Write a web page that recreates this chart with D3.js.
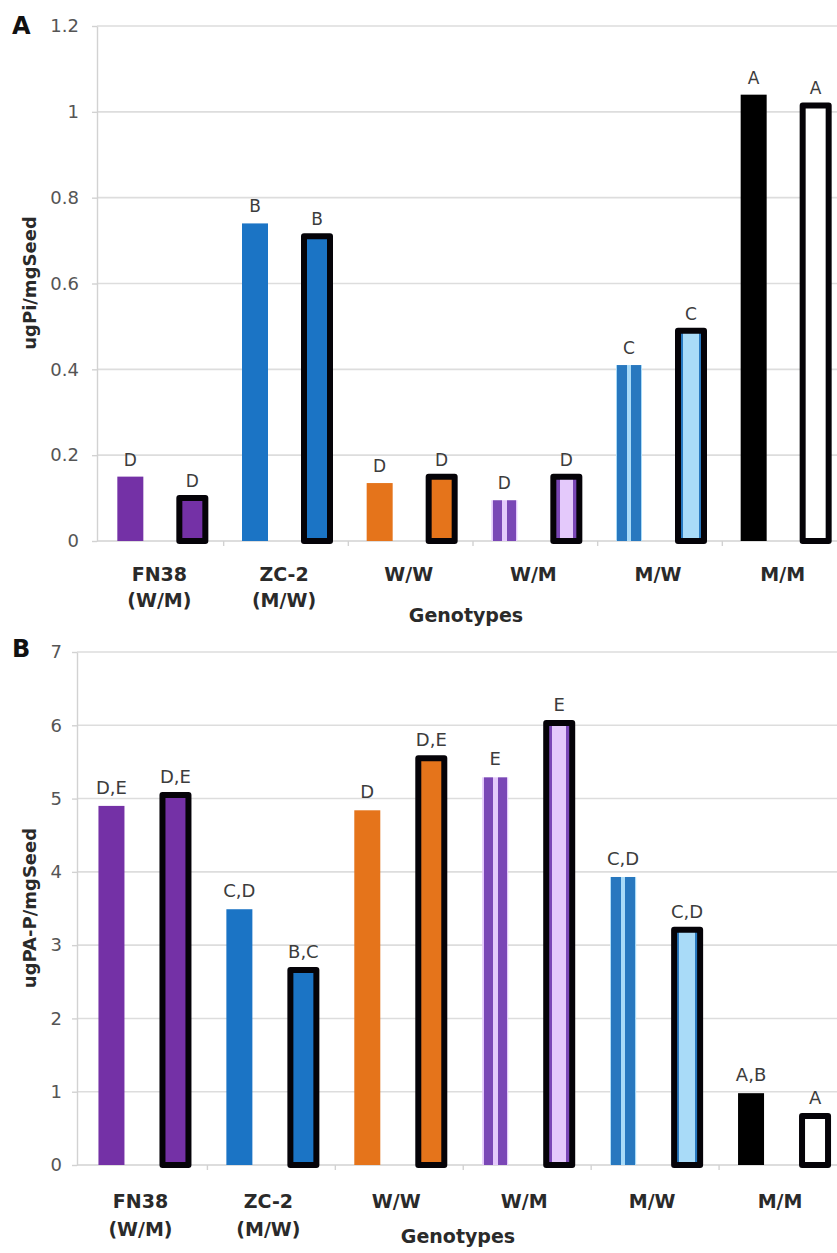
<!DOCTYPE html>
<html>
<head>
<meta charset="utf-8">
<script src="https://cdn.jsdelivr.net/npm/d3@7"></script>
<style>
  body { margin: 0; background: #fff; }
  svg { display: block; }
  text { font-family: "DejaVu Sans", "Liberation Sans", sans-serif; }
</style>
</head>
<body>
<svg id="chart" width="837" height="1253"></svg>
<script>
// Genotype categories (two-line labels)
const genotypes = ["FN38", "ZC-2", "W/W", "W/M", "M/W", "M/M"];
const genotypeSub = ["(W/M)", "(M/W)", "", "", "", ""];
const seriesKeys = ["plain", "outlined"];

// Panel A: free phosphate (ugPi/mgSeed)
const piPlain    = [0.15, 0.74, 0.135, 0.095, 0.41, 1.04];
const piOutlined = [0.10, 0.71, 0.15, 0.15, 0.49, 1.015];
const piLetterPlain    = ["D", "B", "D", "D", "C", "A"];
const piLetterOutlined = ["D", "B", "D", "D", "C", "A"];
const piTicks = [0, 0.2, 0.4, 0.6, 0.8, 1, 1.2];
const piTickLabels = ["0", "0.2", "0.4", "0.6", "0.8", "1", "1.2"];

// Panel B: phytic acid phosphorus (ugPA-P/mgSeed)
const paPlain    = [4.9, 3.49, 4.84, 5.29, 3.93, 0.98];
const paOutlined = [5.05, 2.66, 5.55, 6.03, 3.21, 0.67];
const paLetterPlain    = ["D,E", "C,D", "D", "E", "C,D", "A,B"];
const paLetterOutlined = ["D,E", "B,C", "D,E", "E", "C,D", "A"];
const paTicks = [0, 1, 2, 3, 4, 5, 6, 7];
const paTickLabels = ["0", "1", "2", "3", "4", "5", "6", "7"];

const svg = d3.select("#chart");
const W = 837;

// Fill definitions: striped bars and edge-shaded bars
const defs = svg.append("defs");
function stripes(id, stops) {
  const lg = defs.append("linearGradient").attr("id", id)
    .attr("x1", "0%").attr("x2", "100%").attr("y1", "0%").attr("y2", "0%");
  stops.forEach(([off, col]) => lg.append("stop").attr("offset", off + "%").attr("stop-color", col));
}
const purple = "#7431a6", lav = "#e4c9fb", purpleS = "#7a47b6";
const blue = "#1b74c5", lblue = "#a9dbf8", blueS = "#2878bf";
const orange = "#e5741b";
stripes("stripeWM", [[0, lav], [5, lav], [5, purpleS], [41, purpleS], [41, lav], [59, lav], [59, purpleS], [95, purpleS], [95, lav], [100, lav]]);
stripes("stripeMW", [[0, lblue], [5, lblue], [5, blueS], [41, blueS], [41, lblue], [59, lblue], [59, blueS], [95, blueS], [95, lblue], [100, lblue]]);
stripes("edgeWM", [[0, purpleS], [24, purpleS], [24, lav], [76, lav], [76, purpleS], [100, purpleS]]);
stripes("edgeMW", [[0, blueS], [20, blueS], [20, lblue], [80, lblue], [80, blueS], [100, blueS]]);

const fills = {
  plain:    [purple, blue, orange, "url(#stripeWM)", "url(#stripeMW)", "#000"],
  outlined: [purple, blue, orange, "url(#edgeWM)", "url(#edgeMW)", "#fff"]
};

function drawPanel(p) {
  const g = svg.append("g");
  const y = d3.scaleLinear().domain([0, p.max]).range([p.y0, p.yTop]);
  const x0 = d3.scaleBand().domain(genotypes).range([p.bandStart, p.bandEnd]);
  const x1 = d3.scalePoint().domain(seriesKeys).range([-p.offset, p.offset]);
  const barW = 26;

  // horizontal gridlines
  g.append("g").selectAll("line").data(p.ticks.slice(1)).join("line")
    .attr("x1", p.axisX).attr("x2", W)
    .attr("y1", d => y(d)).attr("y2", d => y(d))
    .attr("stroke", "#dddddd").attr("stroke-width", 1.6);

  // value axis
  const ax = g.append("g").attr("transform", `translate(${p.axisX},0)`)
    .call(d3.axisLeft(y).tickValues(p.ticks)
      .tickFormat((d, i) => p.tickLabels[i])
      .tickSize(5).tickSizeOuter(0).tickPadding(p.tickPad));
  ax.select(".domain").attr("stroke", "#d2d2d2").attr("stroke-width", 1.4);
  ax.selectAll(".tick line").attr("stroke", "#d2d2d2").attr("stroke-width", 1.4);
  ax.selectAll(".tick text").attr("fill", "#555").attr("font-size", 18).attr("font-family", "DejaVu Sans");

  // category baseline with band separators
  g.append("line").attr("x1", p.axisX).attr("x2", W)
    .attr("y1", y(0)).attr("y2", y(0))
    .attr("stroke", "#d2d2d2").attr("stroke-width", 1.6);
  const bounds = genotypes.slice(1).map(d => x0(d));
  g.append("g").selectAll("line").data(bounds).join("line")
    .attr("x1", d => d).attr("x2", d => d)
    .attr("y1", y(0)).attr("y2", y(0) + 5)
    .attr("stroke", "#d2d2d2").attr("stroke-width", 1.4);

  // bars
  const rows = [];
  genotypes.forEach((gt, i) => {
    rows.push({gt, i, key: "plain", v: p.plain[i], letter: p.letterPlain[i]});
    rows.push({gt, i, key: "outlined", v: p.outlined[i], letter: p.letterOutlined[i]});
  });
  const cx = d => x0(d.gt) + x0.bandwidth() / 2 + x1(d.key);

  g.append("g").selectAll("rect").data(rows).join("rect")
    .attr("x", d => cx(d) - barW / 2)
    .attr("width", barW)
    .attr("y", d => y(d.v))
    .attr("height", d => y(0) - y(d.v))
    .attr("fill", d => fills[d.key][d.i])
    .attr("stroke", d => d.key === "outlined" ? "#050308" : "none")
    .attr("stroke-width", 6)
    .attr("stroke-linejoin", "round");

  // significance letters
  g.append("g").selectAll("text").data(rows).join("text")
    .attr("x", cx)
    .attr("y", d => y(d.v) - p.letterGap)
    .attr("text-anchor", "middle")
    .attr("font-size", p.letterSize)
    .attr("fill", "#3c3c3c")
    .text(d => d.letter);

  // category labels
  const cat = g.append("g").selectAll("text").data(genotypes).join("text")
    .attr("text-anchor", "middle")
    .attr("font-size", 19).attr("font-weight", "bold").attr("fill", "#2a2a2a")
    .attr("transform", d => `translate(${x0(d) + x0.bandwidth() / 2 + p.catShift},0)`);
  cat.append("tspan").attr("x", 0).attr("y", p.catY1).text(d => d);
  cat.append("tspan").attr("x", 0).attr("y", p.catY2).text((d, i) => genotypeSub[i]);

  g.append("text").attr("x", p.titleX).attr("y", p.titleY)
    .attr("text-anchor", "middle").attr("font-size", 19).attr("font-weight", "bold")
    .attr("fill", "#2a2a2a").text("Genotypes");

  // value axis title
  g.append("text")
    .attr("transform", `translate(${p.yTitleX},${p.yTitleY}) rotate(-90)`)
    .attr("text-anchor", "middle").attr("font-size", 18).attr("font-weight", "bold")
    .attr("fill", "#2a2a2a").text(p.yTitle);

  // panel letter
  g.append("text").attr("x", 12).attr("y", p.panelY)
    .attr("font-size", 24).attr("font-weight", "bold").attr("fill", "#111")
    .text(p.panel);
}

drawPanel({
  panel: "A", panelY: 34,
  plain: piPlain, outlined: piOutlined,
  letterPlain: piLetterPlain, letterOutlined: piLetterOutlined,
  ticks: piTicks, tickLabels: piTickLabels, max: 1.2,
  y0: 541, yTop: 26, axisX: 97, tickPad: 13,
  bandStart: 99, bandEnd: 847, offset: 31,
  letterGap: 11, letterSize: 17,
  catY1: 581, catY2: 607, catShift: -2,
  titleX: 466, titleY: 622,
  yTitle: "ugPi/mgSeed", yTitleX: 36, yTitleY: 283
});

drawPanel({
  panel: "B", panelY: 657,
  plain: paPlain, outlined: paOutlined,
  letterPlain: paLetterPlain, letterOutlined: paLetterOutlined,
  ticks: paTicks, tickLabels: paTickLabels, max: 7,
  y0: 1165, yTop: 652, axisX: 77, tickPad: 10,
  bandStart: 79.5, bandEnd: 847, offset: 32,
  letterGap: 12, letterSize: 18,
  catY1: 1208, catY2: 1236, catShift: -3,
  titleX: 458, titleY: 1243,
  yTitle: "ugPA-P/mgSeed", yTitleX: 36, yTitleY: 908
});
</script>
</body>
</html>
